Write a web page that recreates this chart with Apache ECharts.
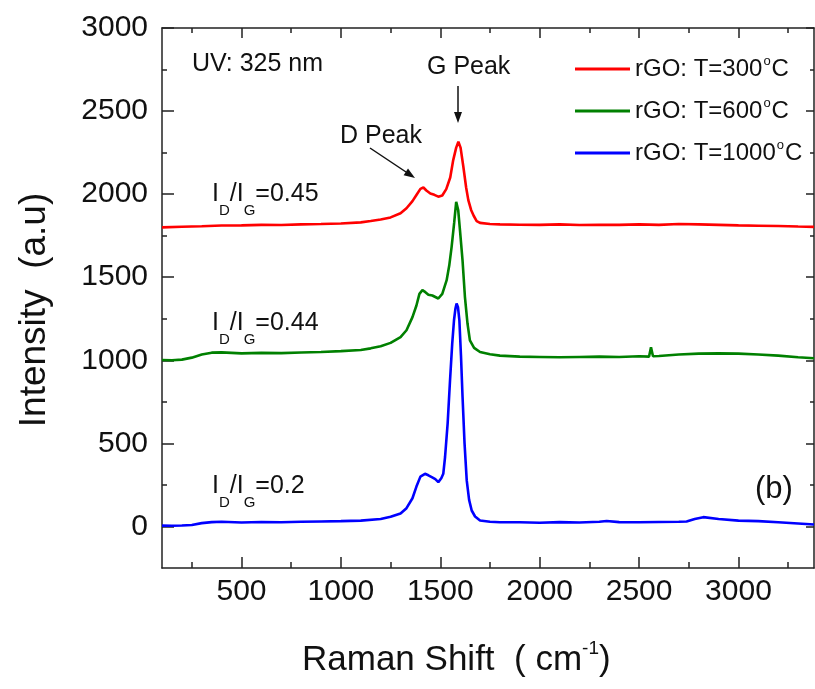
<!DOCTYPE html>
<html><head><meta charset="utf-8">
<script src="https://cdn.jsdelivr.net/npm/echarts@6/dist/echarts.min.js"></script>
<style>html,body{margin:0;padding:0;background:#fff}#c{width:815px;height:689px}</style>
</head><body><div id="c"></div>
<script>
// ---- data ----
const seriesNames = ['rGO: T=300°C', 'rGO: T=600°C', 'rGO: T=1000°C'];
const redX = [100,200,300,400,500,600,700,800,900,1000,1100,1150,1200,1250,1300,1330,1360,1380,1400,1415,1430,1450,1470,1490,1510,1530,1550,1565,1580,1591,1602,1616,1630,1641,1655,1668,1683,1700,1750,1800,1900,2000,2100,2200,2300,2400,2500,2600,2700,2800,2900,3000,3100,3200,3300,3380];
const redY = [1800,1804,1807,1811,1812,1815,1814,1818,1820,1823,1830,1838,1848,1860,1885,1915,1958,1995,2032,2040,2022,2004,1996,1985,1992,2030,2100,2205,2280,2315,2280,2165,2040,1964,1905,1870,1838,1827,1820,1818,1816,1815,1818,1814,1816,1815,1818,1815,1820,1818,1815,1812,1810,1808,1805,1803];
const greenX = [100,150,200,250,300,350,400,500,600,700,800,900,1000,1100,1150,1200,1250,1300,1330,1360,1380,1395,1410,1425,1440,1460,1490,1510,1532,1545,1557,1570,1580,1590,1599,1612,1624,1637,1649,1670,1700,1750,1800,1900,2000,2100,2200,2300,2400,2500,2550,2560,2570,2600,2700,2800,2900,3000,3100,3200,3300,3380];
const greenY = [1002,1000,1004,1016,1035,1046,1048,1042,1045,1043,1047,1050,1055,1062,1072,1085,1105,1140,1181,1260,1330,1400,1422,1410,1395,1390,1372,1400,1482,1570,1683,1830,1954,1905,1783,1600,1381,1220,1120,1075,1050,1036,1028,1022,1020,1018,1020,1022,1020,1024,1022,1078,1024,1026,1035,1040,1042,1040,1035,1028,1018,1012];
const blueX = [100,150,200,250,300,350,400,500,600,700,800,900,1000,1100,1200,1250,1300,1330,1360,1380,1400,1423,1440,1457,1475,1490,1505,1515,1524,1537,1549,1560,1569,1576,1582,1589,1596,1604,1612,1622,1633,1645,1658,1675,1700,1750,1800,1900,2000,2100,2200,2300,2337,2400,2500,2600,2700,2739,2780,2823,2900,3000,3100,3200,3300,3380];
const blueY = [5,4,6,9,20,26,28,24,27,25,28,30,32,35,45,58,78,110,170,240,300,317,308,297,285,267,290,317,418,620,880,1100,1241,1310,1342,1320,1241,1030,779,500,277,160,96,60,36,28,25,25,22,26,24,28,33,26,25,27,28,30,45,56,45,35,32,25,18,12];
const ratioLabels = ['0.45', '0.44', '0.2'];
const xMajor = [500,1000,1500,2000,2500,3000];
const xMinor = [250,750,1250,1750,2250,2750,3250];
const yMajor = [0,500,1000,1500,2000,2500,3000];
const yMinor = [250,750,1250,1750,2250,2750];
const colors = ['#ff0000', '#008000', '#0000ff'];

const FONT = '"Liberation Sans", Arial, sans-serif';
const AX = '#222';

function xa(pos, ticks, len, line, label) {
  return {
    type: 'value', position: pos, min: 100, max: 3380,
    axisLine: { show: line, onZero: false, lineStyle: { color: AX, width: 1.5 } },
    axisTick: { show: true, inside: true, length: len, customValues: ticks, lineStyle: { color: AX, width: 1.5 } },
    axisLabel: { show: label, customValues: xMajor, margin: 9, color: '#111', fontSize: 30, fontFamily: FONT, formatter: v => String(v) },
    splitLine: { show: false }
  };
}
function ya(pos, ticks, len, line, label) {
  return {
    type: 'value', position: pos, min: -250, max: 3000,
    axisLine: { show: line, onZero: false, lineStyle: { color: AX, width: 1.5 } },
    axisTick: { show: true, inside: true, length: len, customValues: ticks, lineStyle: { color: AX, width: 1.5 } },
    axisLabel: { show: label, customValues: yMajor, margin: 14, color: '#111', fontSize: 30, fontFamily: FONT, formatter: v => String(v) },
    splitLine: { show: false }
  };
}

const xAxes = [xa('bottom', xMajor, 11, true, true), xa('bottom', xMinor, 6, false, false), xa('top', xMajor, 10, true, false), xa('top', xMinor, 5, false, false)];
const yAxes = [ya('left', yMajor, 12, true, true), ya('left', yMinor, 5, false, false), ya('right', yMajor, 8, true, false), ya('right', yMinor, 4, false, false)];

const seriesData = [[redX, redY], [greenX, greenY], [blueX, blueY]];
const series = seriesData.map((d, i) => ({
  name: seriesNames[i], type: 'line', xAxisIndex: 0, yAxisIndex: 0,
  data: d[0].map((x, k) => [x, d[1][k]]),
  symbol: 'none', showSymbol: false, smooth: false,
  lineStyle: { color: colors[i], width: 2.6 }, itemStyle: { color: colors[i] },
  animation: false
}));

function ratioText(v) { return '{n|I}{s|D}{n|/I}{s|G}{n|=' + v + '}'; }
const richRatio = {
  n: { fontSize: 25, fontFamily: FONT, fill: '#111', color: '#111', lineHeight: 49, verticalAlign: 'middle' },
  s: { fontSize: 15, fontFamily: FONT, fill: '#111', color: '#111', lineHeight: 15, verticalAlign: 'bottom' }
};
const ratioY = [194, 323, 486];

const graphic = [
  { type: 'text', x: 192, y: 64, style: { text: 'UV: 325 nm', font: '25px ' + FONT, fill: '#111', textAlign: 'left', textVerticalAlign: 'middle' } },
  { type: 'text', x: 340, y: 136, style: { text: 'D Peak', font: '25px ' + FONT, fill: '#111', textAlign: 'left', textVerticalAlign: 'middle' } },
  { type: 'text', x: 427, y: 67, style: { text: 'G Peak', font: '25px ' + FONT, fill: '#111', textAlign: 'left', textVerticalAlign: 'middle' } },
  { type: 'text', x: 755, y: 489, style: { text: '(b)', font: '31px ' + FONT, fill: '#111', textAlign: 'left', textVerticalAlign: 'middle' } },
  { type: 'line', shape: { x1: 370, y1: 148, x2: 406, y2: 172 }, style: { stroke: '#111', lineWidth: 1.5 } },
  { type: 'polygon', shape: { points: [[415, 178], [403.6, 175.2], [408, 168.6]] }, style: { fill: '#111' } },
  { type: 'line', shape: { x1: 458, y1: 86, x2: 458, y2: 113 }, style: { stroke: '#111', lineWidth: 1.5 } },
  { type: 'polygon', shape: { points: [[454, 112], [462, 112], [458, 123]] }, style: { fill: '#111' } },
  // axis titles
  { type: 'text', x: 35, y: 310, rotation: Math.PI / 2,
    style: { text: 'Intensity  (a.u)', font: '37px ' + FONT, fill: '#111', textAlign: 'center', textVerticalAlign: 'middle' } },
  { type: 'text', x: 302, y: 660,
    style: { text: '{n|Raman Shift  ( cm}{s|-1}{n|)}', textAlign: 'left', textVerticalAlign: 'middle', fill: '#111',
      rich: { n: { fontSize: 35, fontFamily: FONT, fill: '#111', lineHeight: 42, verticalAlign: 'middle' },
              s: { fontSize: 19, fontFamily: FONT, fill: '#111', lineHeight: 24, verticalAlign: 'top' } } } }
].concat(ratioLabels.map((v, i) => ({
  type: 'text', x: 212, y: ratioY[i],
  style: { text: ratioText(v), rich: richRatio, textAlign: 'left', textVerticalAlign: 'middle', fill: '#111' }
})));

const chart = echarts.init(document.getElementById('c'), null, { renderer: 'canvas' });
chart.setOption({
  backgroundColor: '#fff',
  animation: false,
  grid: { left: 162, right: 1, top: 28, bottom: 121, containLabel: false },
  xAxis: xAxes,
  yAxis: yAxes,
  legend: {
    left: 570, top: 50, orient: 'vertical', itemWidth: 55, itemHeight: 3, itemGap: 14, icon: 'rect',
    data: seriesNames,
    formatter: n => n.replace('°C', '{sup|o}{n|C}').replace(/^(rGO: T=\d+)/, '{n|$1}'),
    textStyle: {
      color: '#111', fontFamily: FONT, fontSize: 24, lineHeight: 28,
      rich: { n: { fontSize: 24, fontFamily: FONT, color: '#111', lineHeight: 28 }, sup: { fontSize: 13, fontFamily: FONT, color: '#111', verticalAlign: 'top', lineHeight: 13, padding: [0, 1, 0, 1] } }
    }
  },
  graphic: graphic,
  series: series
});
</script></body></html>
